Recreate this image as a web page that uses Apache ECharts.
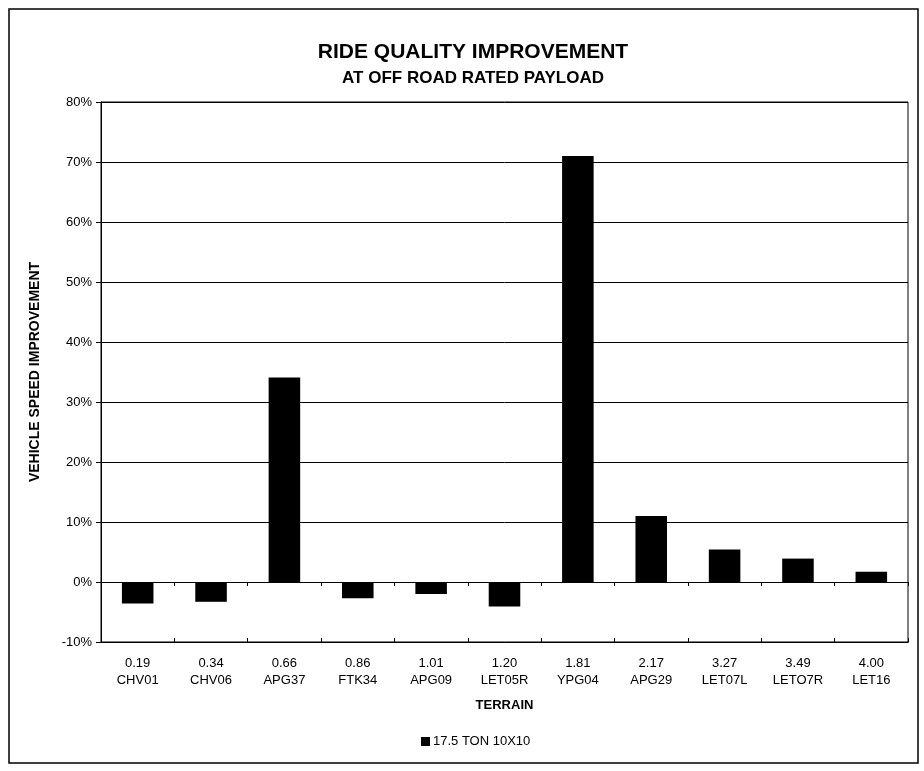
<!DOCTYPE html>
<html>
<head>
<meta charset="utf-8">
<script src="https://cdn.jsdelivr.net/npm/echarts@6/dist/echarts.min.js"></script>
<style>
html,body{margin:0;padding:0;background:#fff;}
#chart{width:924px;height:771px;}
</style>
</head>
<body>
<div id="chart"></div>
<script>
var speeds = ['0.19','0.34','0.66','0.86','1.01','1.20','1.81','2.17','3.27','3.49','4.00'];
var terrains = ['CHV01','CHV06','APG37','FTK34','APG09','LET05R','YPG04','APG29','LET07L','LETO7R','LET16'];
var improvement = [-3.6, -3.3, 34.1, -2.7, -2.0, -4.1, 71.0, 11.0, 5.4, 3.9, 1.7];
var yTicks = [-10, 0, 10, 20, 30, 40, 50, 60, 70, 80];
var seriesName = '17.5 TON 10X10';

var categories = speeds.map(function(s, i){ return s + '\n' + terrains[i]; });
var FONT = '"Liberation Sans", Arial, sans-serif';

var chart = echarts.init(document.getElementById('chart'));
chart.setOption({
  backgroundColor: '#fff',
  animation: false,
  textStyle: { fontFamily: FONT, color: '#000' },
  title: {
    text: 'RIDE QUALITY IMPROVEMENT',
    subtext: 'AT OFF ROAD RATED PAYLOAD',
    left: 468, top: 37, textAlign: 'center',
    itemGap: 7,
    textStyle: { fontFamily: FONT, fontSize: 21, fontWeight: 'bold', color: '#000' },
    subtextStyle: { fontFamily: FONT, fontSize: 17, fontWeight: 'bold', color: '#000' }
  },
  legend: {
    data: [seriesName],
    left: 416, top: 730,
    itemWidth: 9, itemHeight: 9, itemGap: 4,
    icon: 'rect',
    textStyle: { fontFamily: FONT, fontSize: 13, color: '#000', padding: [0,0,0,-2] }
  },
  grid: {
    left: 101, right: 16, top: 102, bottom: 129,
    show: true, borderColor: '#000', borderWidth: 1
  },
  graphic: [{
    type: 'rect', silent: true,
    shape: { x: 9, y: 9, width: 909, height: 754 },
    style: { fill: 'none', stroke: '#000', lineWidth: 1.5 }
  }],
  xAxis: [{
    type: 'category', data: categories, position: 'bottom',
    name: 'TERRAIN', nameLocation: 'middle', nameGap: 57,
    nameTextStyle: { fontFamily: FONT, fontSize: 13, fontWeight: 'bold', color: '#000' },
    axisLine: { onZero: false, lineStyle: { color: '#000', width: 1 } },
    axisTick: { show: false },
    axisLabel: { fontFamily: FONT, fontSize: 13, color: '#000', lineHeight: 17, margin: 13, interval: 0 }
  }, {
    type: 'category', data: categories, position: 'bottom',
    axisLine: { onZero: true, lineStyle: { color: '#000', width: 1 } },
    axisTick: { show: true, length: 4, lineStyle: { color: '#000' } },
    axisLabel: { show: false }
  }, {
    type: 'category', data: categories, position: 'bottom',
    axisLine: { onZero: true, lineStyle: { color: '#000', width: 1 } },
    axisTick: { show: true, inside: true, length: 4, lineStyle: { color: '#000' } },
    axisLabel: { show: false }
  }],
  yAxis: {
    type: 'value', min: yTicks[0], max: yTicks[yTicks.length - 1], interval: 10,
    name: 'VEHICLE SPEED IMPROVEMENT', nameLocation: 'middle', nameGap: 59, nameRotate: 90,
    nameTextStyle: { fontFamily: FONT, fontSize: 14, fontWeight: 'bold', color: '#000' },
    axisLine: { show: true, lineStyle: { color: '#000', width: 1 } },
    axisTick: { show: true, length: 5, lineStyle: { color: '#000' } },
    axisLabel: { fontFamily: FONT, fontSize: 13, color: '#000', margin: 9,
      formatter: function(v){ return v + '%'; } },
    splitLine: { show: true, lineStyle: { color: '#000', width: 1 } }
  },
  series: [{
    name: seriesName, type: 'bar', xAxisIndex: 0,
    data: improvement, barWidth: '43%',
    itemStyle: { color: '#000' }
  }]
});
</script>
</body>
</html>
